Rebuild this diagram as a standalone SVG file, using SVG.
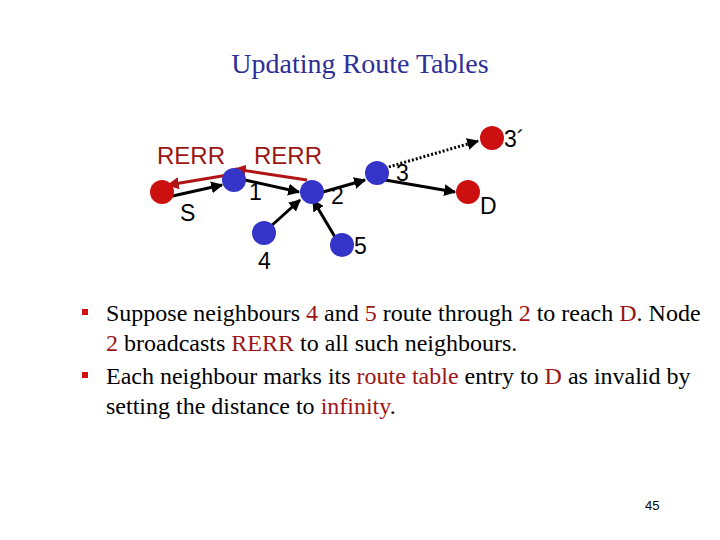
<svg xmlns="http://www.w3.org/2000/svg" width="720" height="540" viewBox="0 0 720 540">
<style>
.title{font-family:"Liberation Serif",serif;font-size:28px;fill:#2e2e98}
.lbl{font-family:"Liberation Sans",Arial,sans-serif;font-size:23px;fill:#000}
.rerr{font-family:"Liberation Sans",Arial,sans-serif;font-size:24px;fill:#9b1515}
.body{font-family:"Liberation Serif",serif;font-size:24px;fill:#000}
.hl{fill:#9b1515}
.red{fill:#cc1010}
.blue{fill:#3434c8}
.bullet{fill:#d01010}
.edge{stroke:#000;stroke-width:3;fill:none}
.dot{stroke:#000;stroke-width:3;fill:none;stroke-dasharray:2 2}
.redge{stroke:#b01515;stroke-width:3;fill:none}
</style>
<defs>
<marker id="ah" viewBox="0 0 10 10" refX="9" refY="5" markerWidth="4" markerHeight="4" orient="auto" markerUnits="strokeWidth"><path d="M0,0L10,5L0,10z" fill="#000"/></marker>
<marker id="rh" viewBox="0 0 10 10" refX="9" refY="5" markerWidth="4" markerHeight="4" orient="auto" markerUnits="strokeWidth"><path d="M0,0L10,5L0,10z" fill="#b01515"/></marker>
</defs>
<rect width="720" height="540" fill="#fff"/>
<text class="title" x="360" y="73" text-anchor="middle">Updating Route Tables</text>
<g id="connectors">
<line class="edge" x1="168" y1="197" x2="222" y2="185" marker-end="url(#ah)"/>
<line class="edge" x1="245" y1="180" x2="299" y2="192" marker-end="url(#ah)"/>
<line class="edge" x1="323" y1="192" x2="365" y2="180" marker-end="url(#ah)"/>
<line class="edge" x1="385" y1="180" x2="455" y2="192" marker-end="url(#ah)"/>
<line class="edge" x1="270" y1="227" x2="300" y2="200" marker-end="url(#ah)"/>
<line class="edge" x1="335" y1="237" x2="313" y2="200" marker-end="url(#ah)"/>
<line class="dot" x1="385" y1="168" x2="478" y2="141" marker-end="url(#ah)"/>
<line class="redge" x1="228" y1="175" x2="168" y2="185" marker-end="url(#rh)"/>
<line class="redge" x1="307" y1="180" x2="235" y2="169" marker-end="url(#rh)"/>
</g>
<g id="node-S"><circle class="red" cx="162" cy="192" r="12"/><text class="lbl" x="180" y="221">S</text></g>
<g id="node-1"><circle class="blue" cx="234" cy="180" r="12"/><text class="lbl" x="249" y="200">1</text></g>
<g id="node-2"><circle class="blue" cx="312" cy="192" r="12"/><text class="lbl" x="331" y="204">2</text></g>
<g id="node-3"><circle class="blue" cx="377" cy="173" r="12"/><text class="lbl" x="396" y="181">3</text></g>
<g id="node-3p"><circle class="red" cx="492" cy="138" r="12"/><text class="lbl" x="504" y="147">3´</text></g>
<g id="node-D"><circle class="red" cx="468" cy="192" r="12"/><text class="lbl" x="480" y="214">D</text></g>
<g id="node-4"><circle class="blue" cx="264" cy="233" r="12"/><text class="lbl" x="258" y="269">4</text></g>
<g id="node-5"><circle class="blue" cx="342" cy="245" r="12"/><text class="lbl" x="354" y="254">5</text></g>
<text class="rerr" x="157" y="164">RERR</text>
<text class="rerr" x="254" y="164">RERR</text>
<rect class="bullet" x="82" y="309" width="6" height="6"/>
<text class="body" x="106" y="321">Suppose neighbours <tspan class="hl">4</tspan> and <tspan class="hl">5</tspan> route through <tspan class="hl">2</tspan> to reach <tspan class="hl">D</tspan>. Node</text>
<text class="body" x="106" y="351"><tspan class="hl">2</tspan> broadcasts <tspan class="hl">RERR</tspan> to all such neighbours.</text>
<rect class="bullet" x="82" y="372" width="6" height="6"/>
<text class="body" x="106" y="384">Each neighbour marks its <tspan class="hl">route table</tspan> entry to <tspan class="hl">D</tspan> as invalid by</text>
<text class="body" x="106" y="414">setting the distance to <tspan class="hl">infinity</tspan>.</text>
<text x="645" y="510" font-family="Liberation Sans,Arial,sans-serif" font-size="13" fill="#000">45</text>
</svg>
